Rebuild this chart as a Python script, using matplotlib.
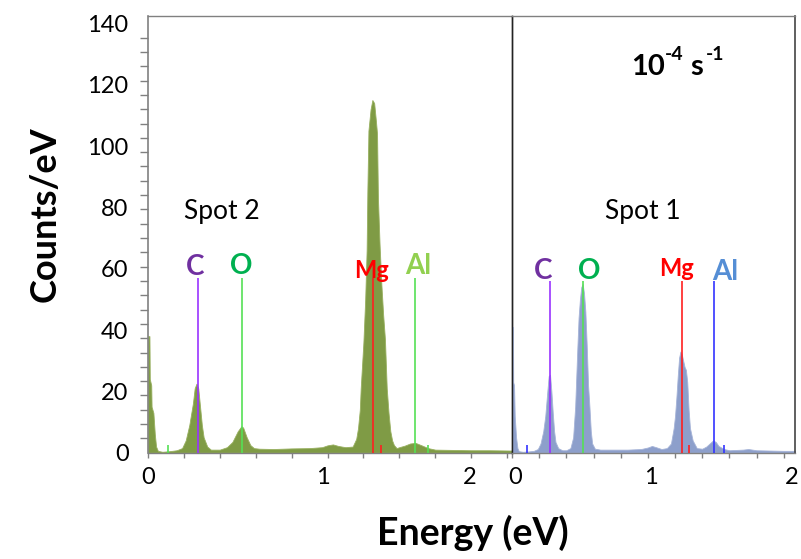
import numpy as np
import matplotlib
matplotlib.use('Agg')
import matplotlib.pyplot as plt
from matplotlib.ticker import FixedLocator, MultipleLocator, NullFormatter

plt.rcParams['font.family'] = ['Lato', 'DejaVu Sans']

# ---------------- data ----------------
spot2_energy = [0.000, 0.008, 0.010, 0.018, 0.020, 0.030, 0.038, 0.045, 0.055, 0.08, 0.12, 0.16,
                0.19, 0.21, 0.23, 0.25, 0.26, 0.27, 0.28, 0.29, 0.30, 0.31, 0.33, 0.35, 0.40,
                0.44, 0.47, 0.50, 0.52, 0.53, 0.55, 0.57, 0.59, 0.62, 0.70, 0.80, 0.90, 0.97,
                1.00, 1.03, 1.06, 1.10, 1.14, 1.16, 1.17, 1.18, 1.185, 1.19, 1.20, 1.21, 1.218,
                1.222, 1.228, 1.24, 1.25, 1.26, 1.27, 1.276, 1.281, 1.29, 1.30, 1.31, 1.32,
                1.33, 1.34, 1.35, 1.36, 1.37, 1.385, 1.40, 1.43, 1.46, 1.49, 1.52, 1.56, 1.60,
                1.70, 1.80, 1.90, 2.03]
spot2_counts = [38, 38, 24, 22, 15, 13, 6, 2, 0.6, 0.3, 0.5, 0.8,
                1.5, 4, 9, 16, 21, 22.5, 21, 15, 9, 5, 2, 1, 1.0,
                1.8, 3.5, 7, 8.6, 8.2, 5, 2.5, 1.5, 1.3, 1.2, 1.4, 1.5, 1.8,
                2.4, 2.7, 2.2, 1.8, 2.0, 4.5, 8, 14, 21, 26, 36, 50, 66,
                85, 105, 112, 115, 114, 108, 104, 83, 68, 55, 45, 37,
                21, 13, 7, 4, 2.5, 1.5, 1.8, 2.3, 3, 3.2, 2.5, 1.5, 1.0,
                0.9, 0.8, 0.8, 0.7]

spot1_energy = [0.000, 0.007, 0.009, 0.015, 0.020, 0.030, 0.040, 0.050, 0.08, 0.12, 0.16, 0.19,
                0.21, 0.23, 0.245, 0.26, 0.27, 0.28, 0.29, 0.30, 0.31, 0.32, 0.34, 0.37, 0.40,
                0.43, 0.45, 0.465, 0.48, 0.49, 0.50, 0.51, 0.52, 0.53, 0.54, 0.55, 0.56, 0.57,
                0.58, 0.59, 0.61, 0.65, 0.75, 0.85, 0.95, 1.00, 1.03, 1.06, 1.10, 1.14, 1.17,
                1.19, 1.20, 1.21, 1.22, 1.23, 1.24, 1.25, 1.26, 1.27, 1.28, 1.29, 1.30, 1.31,
                1.33, 1.36, 1.40, 1.43, 1.46, 1.48, 1.50, 1.52, 1.56, 1.60, 1.70, 1.74, 1.80,
                1.90, 2.00, 2.09]
spot1_counts = [41, 41, 23, 22, 12, 5, 1.5, 0.5, 0.3, 0.4, 0.6, 1.2,
                3, 7, 12, 20, 25, 25.4, 20, 13, 7, 3.5, 1.5, 0.8, 0.8,
                1.5, 5, 15, 33, 44, 50, 54, 55, 52, 46, 35, 22, 15,
                7, 3, 1.3, 1.0, 1.0, 1.0, 1.2, 1.7, 2.2, 1.8, 1.2, 1.5, 3,
                8, 12, 18, 25, 31, 33, 32, 30, 28, 27, 23, 14, 8,
                4, 1.5, 1.3, 2, 3.2, 4, 3.5, 2.2, 1.2, 0.8, 1.0, 1.2, 0.8,
                0.7, 0.6, 0.6]

elements = ['C', 'O', 'Mg', 'Al']
element_energy = [0.277, 0.525, 1.253, 1.486]
minor_marker_energy = [0.11, 1.30, 1.56]

y_ticks = [0, 20, 40, 60, 80, 100, 120, 140]
left_x_ticklabels = ['0', '1', '2']
right_x_ticklabels = ['0', '1', '2']

# ---------------- layout ----------------
W, H = 801, 559
fig = plt.figure(figsize=(W / 100, H / 100), dpi=100)

def fx(px):
    return px / W

def fy(py):
    return 1 - py / H

y_top_px, y_bot_px = 16.0, 452.7
ax_l = fig.add_axes([fx(148), fy(y_bot_px), fx(512 - 148), (y_bot_px - y_top_px) / H])
ax_r = fig.add_axes([fx(512), fy(y_bot_px), fx(795 - 512), (y_bot_px - y_top_px) / H])

ymax = 142.4
ax_l.set_xlim(0, (512 - 148) / 179.5)
ax_r.set_xlim(0, (795 - 511.7) / 136.0)
for ax in (ax_l, ax_r):
    ax.set_ylim(0, ymax)

green_fill = '#7f9b45'
blue_fill = '#8d9fcb'
ax_l.fill_between(spot2_energy, spot2_counts, 0, color=green_fill, lw=0.6,
                  edgecolor='#98b060', zorder=2)
ax_r.fill_between(spot1_energy, spot1_counts, 0, color=blue_fill, lw=0.6,
                  edgecolor='#a6b4d8', zorder=2)

line_cols_l = ['#9933ff', '#55e055', '#ff2020', '#55e055']
line_cols_r = ['#9933ff', '#55e055', '#ff2020', '#3333ff']
label_cols_l = ['#7030a0', '#00b050', '#ff0000', '#92d050']
label_cols_r = ['#7030a0', '#00b050', '#ff0000', '#558ed5']
label_sizes = [20, 20, 17, 20]

for i, e in enumerate(element_energy):
    ax_l.vlines(e, 0, 57, color=line_cols_l[i], lw=1.2, zorder=3)
    ax_r.vlines(e, 0, 56, color=line_cols_r[i], lw=1.2, zorder=3)

marker_cols_l = ['#55e055', '#ff2020', '#55e055']
marker_cols_r = ['#3333ff', '#ff2020', '#3333ff']
for i, e in enumerate(minor_marker_energy):
    ax_l.vlines(e, 0, 2.5, color=marker_cols_l[i], lw=1.2, zorder=3)
    ax_r.vlines(e, 0, 2.5, color=marker_cols_r[i], lw=1.2, zorder=3)

# element labels (pixel positions of label centres)
lab_l_px = [(195, 267), (241, 266), (372, 270), (418, 266)]
lab_r_px = [(542.7, 271), (589.3, 271), (676.7, 269), (725, 272)]
for i, el in enumerate(elements):
    fig.text(fx(lab_l_px[i][0]), fy(lab_l_px[i][1]), el, color=label_cols_l[i],
             fontsize=label_sizes[i], fontweight='bold', ha='center', va='center')
    fig.text(fx(lab_r_px[i][0]), fy(lab_r_px[i][1]), el, color=label_cols_r[i],
             fontsize=label_sizes[i], fontweight='bold', ha='center', va='center')

fig.text(fx(222), fy(212), 'Spot 2', fontsize=19, ha='center', va='center')
fig.text(fx(643), fy(212), 'Spot 1', fontsize=19, ha='center', va='center')

# strain-rate label: 10^-4 s^-1 with superscripts
rate_parts = [('10', 631, 75, 21), ('-4', 665, 60, 14), ('s', 690, 75, 21), ('-1', 706, 60, 14)]
for txt, px, py, fs in rate_parts:
    fig.text(fx(px), fy(py), txt, fontsize=fs, fontweight='bold', ha='left', va='baseline')

fig.text(fx(45), fy(214), 'Counts/eV', fontsize=26, fontweight='bold',
         rotation=90, ha='center', va='center')
fig.text(fx(473), fy(533), 'Energy (eV)', fontsize=27, fontweight='bold',
         ha='center', va='center')

# ---------------- axes styling ----------------
gray = '#808080'
for ax in (ax_l, ax_r):
    for s in ('top', 'bottom'):
        ax.spines[s].set_color(gray)
        ax.spines[s].set_linewidth(1.0)
    ax.xaxis.set_major_locator(MultipleLocator(0.2))
    ax.xaxis.set_major_formatter(NullFormatter())
    ax.tick_params(axis='x', which='major', direction='out', length=3.5, width=1.0,
                   color=gray)
    ax.patch.set_alpha(0)

ax_l.spines['left'].set_color(gray)
ax_l.spines['left'].set_linewidth(1.2)
ax_l.spines['right'].set_color('#222222')
ax_l.spines['right'].set_linewidth(1.0)
ax_r.spines['left'].set_color('#222222')
ax_r.spines['left'].set_linewidth(1.0)
ax_r.spines['right'].set_color('#444444')
ax_r.spines['right'].set_linewidth(1.2)

# y axis: labels at 20 steps, dense tick marks
ax_l.yaxis.set_major_locator(FixedLocator(y_ticks))
ax_l.set_yticklabels([str(v) for v in y_ticks])
ax_l.yaxis.set_minor_locator(FixedLocator(np.linspace(0, 140, 31)))
ax_l.tick_params(axis='y', which='major', length=0, pad=14, labelsize=17)
ax_l.tick_params(axis='y', which='minor', length=6, width=1.0, color=gray)
ax_r.set_yticks([])

# x tick labels placed to match the reference
left_label_pos = [0.0, 0.975, 1.79]
right_label_pos = [0.0, 1.0, 2.0]
for p, t in zip(left_label_pos, left_x_ticklabels):
    ax_l.text(p, -0.057, t, transform=ax_l.get_xaxis_transform(), fontsize=17,
              ha='center', va='center')
for p, t in zip(right_label_pos, right_x_ticklabels):
    ax_r.text(p + (0.06 if p == 2.0 else 0.02), -0.057, t,
              transform=ax_r.get_xaxis_transform(), fontsize=17,
              ha='center', va='center', clip_on=False)

fig.savefig('out.png', dpi=100)
